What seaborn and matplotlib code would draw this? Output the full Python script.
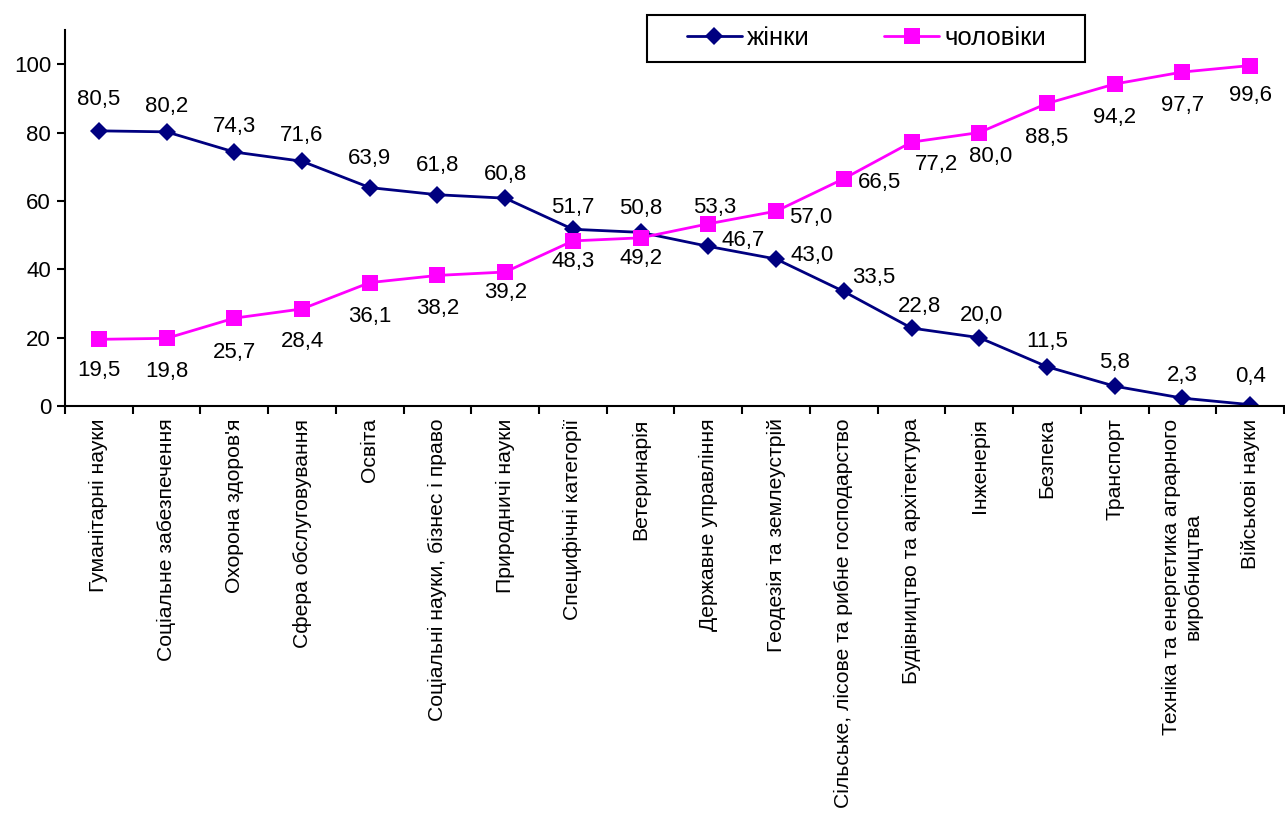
import matplotlib
matplotlib.use("Agg")
import matplotlib.pyplot as plt
import seaborn as sns
import numpy as np
import pandas as pd
from matplotlib.ticker import FixedLocator
from matplotlib.patches import Rectangle

categories = [
    "Гуманітарні науки",
    "Соціальне забезпечення",
    "Охорона здоров'я",
    "Сфера обслуговування",
    "Освіта",
    "Соціальні науки, бізнес і право",
    "Природничі науки",
    "Специфічні категорії",
    "Ветеринарія",
    "Державне управління",
    "Геодезія та землеустрій",
    "Сільське, лісове та рибне господарство",
    "Будівництво та архітектура",
    "Інженерія",
    "Безпека",
    "Транспорт",
    "Техніка та енергетика аграрного\nвиробництва",
    "Військові науки",
]
women = [80.5, 80.2, 74.3, 71.6, 63.9, 61.8, 60.8, 51.7, 50.8,
         46.7, 43.0, 33.5, 22.8, 20.0, 11.5, 5.8, 2.3, 0.4]
men = [19.5, 19.8, 25.7, 28.4, 36.1, 38.2, 39.2, 48.3, 49.2,
       53.3, 57.0, 66.5, 77.2, 80.0, 88.5, 94.2, 97.7, 99.6]
series_names = ["жінки", "чоловіки"]
y_ticks = [0, 20, 40, 60, 80, 100]

# label offsets in screen pixels (dx right, dy down) - layout only
w_off = [(0, -31), (0, -25), (0, -26), (0, -26), (0, -29), (0, -29), (0, -24), (0, -22), (0, -24),
         (35, -6), (36, -4), (30, -14), (8, -22), (2, -22), (0, -25), (0, -24), (0, -23), (0, -28)]
m_off = [(0, 31), (0, 33), (0, 34), (0, 33), (0, 34), (0, 33), (0, 20), (0, 21), (0, 21),
         (6, -16), (35, 6), (36, 4), (25, 22), (11, 24), (0, 34), (0, 33), (0, 33), (0, 30)]

sns.set_style("ticks")
plt.rcParams["font.family"] = ["Liberation Sans", "DejaVu Sans"]
plt.rcParams["text.color"] = "black"
plt.rcParams["xtick.color"] = "black"
plt.rcParams["ytick.color"] = "black"

FS = 16
FS_CAT = 15.2
FS_LEG = 18.5
fig = plt.figure(figsize=(12.85, 8.18), dpi=100)
ax = fig.add_axes([65 / 1285, 1 - 406 / 818, (1284 - 65) / 1285, (406 - 30) / 818])

x = np.arange(len(categories))
df = pd.DataFrame({"x": np.concatenate([x, x]),
                   "value": women + men,
                   "series": [series_names[0]] * len(x) + [series_names[1]] * len(x)})

navy = "#000080"
magenta = "#FF00FF"
sns.lineplot(data=df, x="x", y="value", hue="series", style="series",
             palette={series_names[0]: navy, series_names[1]: magenta},
             markers={series_names[0]: "D", series_names[1]: "s"},
             dashes=False, linewidth=2.0, markersize=10, markeredgewidth=0,
             ax=ax, legend=True)
for ln in ax.get_lines():
    if ln.get_marker() == "D":
        ln.set_markersize(9)
    elif ln.get_marker() == "s":
        ln.set_markersize(11)

for i, v in enumerate(women):
    dx, dy = w_off[i]
    ax.annotate(f"{v:.1f}".replace(".", ","), (x[i], v), xytext=(dx, -dy),
                textcoords="offset pixels", ha="center", va="center", fontsize=FS, color="black")
for i, v in enumerate(men):
    dx, dy = m_off[i]
    ax.annotate(f"{v:.1f}".replace(".", ","), (x[i], v), xytext=(dx, -dy),
                textcoords="offset pixels", ha="center", va="center", fontsize=FS, color="black")

ax.set_xlim(-0.5, len(categories) - 0.5)
ax.set_ylim(0, 110)
ax.set_yticks(y_ticks)
ax.set_yticklabels([str(t) for t in y_ticks], fontsize=FS)
ax.set_xticks(x)
ax.set_xticklabels(categories, rotation=90, fontsize=FS_CAT, ha="center", va="top",
                   multialignment="center")
ax.xaxis.set_minor_locator(FixedLocator(np.arange(-0.5, len(categories), 1.0)))
ax.tick_params(axis="x", which="major", length=0, pad=9)
ax.tick_params(axis="x", which="minor", length=6, width=1.5, color="black", direction="out")
ax.tick_params(axis="y", which="major", length=6, width=1.5, color="black", direction="out", pad=4)
ax.set_xlabel("")
ax.set_ylabel("")
for s in ["top", "right"]:
    ax.spines[s].set_visible(False)
for s in ["left", "bottom"]:
    ax.spines[s].set_linewidth(1.5)
    ax.spines[s].set_color("black")
ax.grid(False)

handles, labels = ax.get_legend_handles_labels()
ax.get_legend().remove()
for h in handles:
    h.set_linewidth(2.0)
leg = fig.legend(handles, labels, loc="center", bbox_to_anchor=(866.5 / 1285, 1 - 38 / 818),
                 ncol=2, fontsize=FS_LEG, frameon=False, handlelength=2.14, handletextpad=0.2,
                 columnspacing=2.9, borderpad=0.2)
fig.patches.append(Rectangle((647 / 1285, 1 - 62 / 818), (1085 - 647) / 1285, 47 / 818,
                             transform=fig.transFigure, fill=False, edgecolor="black",
                             linewidth=1.5, zorder=5))

fig.savefig("out.png", dpi=100)
